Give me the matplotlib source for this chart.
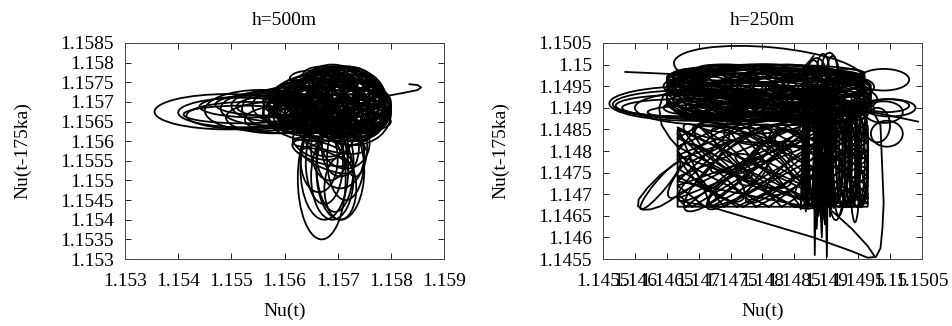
"""
Delay-embedding phase portraits Nu(t) vs Nu(t-175ka) for h=500m and h=250m.
Loops are read off the reference figure as ellipses (centre, width, height, tilt)
plus a few traced polylines; everything drawn in data coordinates.
"""
import matplotlib
matplotlib.use("Agg")
import matplotlib.pyplot as plt
from matplotlib.patches import Ellipse

plt.rcParams["font.family"] = ["Liberation Serif", "DejaVu Serif"]
plt.rcParams["font.size"] = 14

# ---------------- h=500m ----------------
# horizontal loops stretching to the left
l500_hx = [1.15493, 1.1552, 1.15533, 1.15555, 1.15565, 1.1558, 1.1558, 1.1560,
           1.15598, 1.15615, 1.1563, 1.15565, 1.15545, 1.1564, 1.1552, 1.15585]
l500_hy = [1.15675, 1.15673, 1.15665, 1.15678, 1.15683, 1.1566, 1.1569, 1.15683,
           1.15655, 1.1569, 1.15675, 1.15693, 1.15688, 1.15665, 1.15668, 1.15688]
l500_hw = [0.00275, 0.0024, 0.00235, 0.0021, 0.0017, 0.0018, 0.0016, 0.0016,
           0.00145, 0.0015, 0.0014, 0.0019, 0.0021, 0.0014, 0.0022, 0.0015]
l500_hh = [0.0009, 0.00075, 0.0007, 0.00105, 0.00085, 0.0008, 0.0008, 0.00105,
           0.0007, 0.001, 0.0009, 0.00055, 0.00055, 0.0009, 0.00045, 0.00055]

# dense central cluster
l500_cx = [1.1570, 1.1569, 1.1571, 1.1568, 1.1572, 1.1567, 1.1566, 1.1565, 1.1573, 1.1574,
           1.1575, 1.1574, 1.1570, 1.1568, 1.1571, 1.1569, 1.1570, 1.1568, 1.1572, 1.1571,
           1.1573, 1.1567, 1.1566, 1.1569, 1.1572, 1.1570, 1.1568, 1.1574, 1.1575, 1.1576,
           1.1566, 1.1564, 1.1563, 1.1565, 1.1571, 1.1573, 1.1569, 1.1567, 1.1570, 1.1572,
           1.1569, 1.1571, 1.1568, 1.1573, 1.1570, 1.1574, 1.1567, 1.1565, 1.1572, 1.1569,
           1.1567, 1.1570, 1.1573, 1.1566, 1.1571, 1.1568, 1.1575, 1.1564, 1.1570, 1.1572,
           1.1569, 1.1566, 1.1573, 1.1570, 1.1567, 1.1576, 1.1562, 1.1561,
           1.1560, 1.1562, 1.1564, 1.1566, 1.1568, 1.1570, 1.1572, 1.1574, 1.1576, 1.1578,
           1.1561, 1.1563, 1.1565, 1.1567, 1.1569, 1.1571, 1.1573, 1.1575, 1.1577,
           1.1562, 1.1564, 1.1566, 1.1568, 1.1570, 1.1572, 1.1574, 1.1576,
           1.1565, 1.1567, 1.1569, 1.1571, 1.1573]
l500_cy = [1.1570, 1.1571, 1.1570, 1.1569, 1.1569, 1.1570, 1.1570, 1.1569, 1.1568, 1.1568,
           1.1567, 1.1569, 1.1572, 1.1572, 1.1571, 1.1568, 1.1567, 1.1566, 1.1566, 1.1568,
           1.1570, 1.1571, 1.1571, 1.1570, 1.1571, 1.1569, 1.1568, 1.1566, 1.1569, 1.1568,
           1.1567, 1.1568, 1.1569, 1.1571, 1.1573, 1.1572, 1.1573, 1.1573, 1.1566, 1.1567,
           1.1567, 1.1569, 1.1570, 1.1569, 1.1571, 1.1571, 1.1569, 1.1570, 1.1565, 1.1565,
           1.1566, 1.1565, 1.1566, 1.1568, 1.1570, 1.1571, 1.1570, 1.1566, 1.1568, 1.1572,
           1.1569, 1.1572, 1.1567, 1.1570, 1.1567, 1.1571, 1.1570, 1.1567,
           1.1570, 1.1571, 1.1572, 1.1573, 1.1574, 1.1575, 1.1574, 1.1573, 1.1571, 1.1569,
           1.1566, 1.1565, 1.1566, 1.1567, 1.1566, 1.1565, 1.1566, 1.1565, 1.1566,
           1.1568, 1.1569, 1.1568, 1.1569, 1.1568, 1.1569, 1.1568, 1.1567,
           1.1576, 1.1577, 1.1577, 1.1576, 1.1575]
l500_cw = [0.0016, 0.0014, 0.0012, 0.0018, 0.0014, 0.0020, 0.0018, 0.0016, 0.0012, 0.0010,
           0.0008, 0.0011, 0.0010, 0.0012, 0.0016, 0.0022, 0.0020, 0.0016, 0.0014, 0.0018,
           0.0010, 0.0014, 0.0016, 0.0010, 0.0008, 0.0012, 0.0008, 0.0010, 0.0008, 0.0006,
           0.0012, 0.0012, 0.0012, 0.0010, 0.0010, 0.0008, 0.0008, 0.0008, 0.0012, 0.0010,
           0.0014, 0.0018, 0.0024, 0.0012, 0.0006, 0.0006, 0.0010, 0.0014, 0.0016, 0.0018,
           0.0020, 0.0016, 0.0012, 0.0020, 0.0014, 0.0016, 0.0008, 0.0014, 0.0008, 0.0012,
           0.0022, 0.0010, 0.0014, 0.0018, 0.0006, 0.0006, 0.0012, 0.0010,
           0.0006, 0.0007, 0.0008, 0.0006, 0.0007, 0.0008, 0.0006, 0.0007, 0.0005, 0.0004,
           0.0006, 0.0008, 0.0007, 0.0006, 0.0008, 0.0007, 0.0006, 0.0008, 0.0005,
           0.0007, 0.0006, 0.0008, 0.0007, 0.0006, 0.0008, 0.0007, 0.0006,
           0.0008, 0.0007, 0.0008, 0.0007, 0.0008]
l500_ch = [0.0018, 0.0017, 0.0018, 0.0016, 0.0020, 0.0014, 0.0012, 0.0010, 0.0014, 0.0010,
           0.0008, 0.0016, 0.0014, 0.0012, 0.0016, 0.0012, 0.0010, 0.0008, 0.0008, 0.0012,
           0.0012, 0.0014, 0.0012, 0.0018, 0.0016, 0.0012, 0.0010, 0.0010, 0.0012, 0.0008,
           0.0008, 0.0010, 0.0008, 0.0010, 0.0012, 0.0012, 0.0012, 0.0010, 0.0008, 0.0006,
           0.0014, 0.0014, 0.0012, 0.0018, 0.0016, 0.0012, 0.0014, 0.0012, 0.0006, 0.0008,
           0.0010, 0.0010, 0.0012, 0.0016, 0.0012, 0.0012, 0.0010, 0.0008, 0.0008, 0.0010,
           0.0010, 0.0008, 0.0016, 0.0016, 0.0010, 0.0006, 0.0008, 0.0008,
           0.0004, 0.0005, 0.0004, 0.0006, 0.0005, 0.0004, 0.0006, 0.0005, 0.0004, 0.0005,
           0.0005, 0.0004, 0.0006, 0.0005, 0.0004, 0.0006, 0.0005, 0.0004, 0.0006,
           0.0006, 0.0005, 0.0004, 0.0006, 0.0005, 0.0004, 0.0006, 0.0005,
           0.0004, 0.0004, 0.0004, 0.0004, 0.0004]

# tall loops hanging below the cluster
l500_vx = [1.1567, 1.15675, 1.15705, 1.15695, 1.15675, 1.15705, 1.15665, 1.15705, 1.15715, 1.15733,
           1.15685, 1.15685, 1.15715, 1.1567, 1.1568, 1.1569, 1.1566, 1.15705, 1.1569, 1.15638]
l500_vy = [1.15505, 1.1553, 1.15525, 1.1554, 1.15545, 1.15565, 1.15555, 1.15585, 1.15555, 1.1559,
           1.1558, 1.1561, 1.15595, 1.1557, 1.1555, 1.1560, 1.1559, 1.1548, 1.1551, 1.15598]
l500_vw = [0.0009, 0.0009, 0.0009, 0.0007, 0.0007, 0.0009, 0.0007, 0.0007, 0.0007, 0.00045,
           0.0007, 0.0009, 0.0009, 0.0012, 0.0011, 0.0013, 0.0010, 0.0006, 0.0008, 0.00045]
l500_vh = [0.0031, 0.0026, 0.0025, 0.0024, 0.0021, 0.0017, 0.0017, 0.0015, 0.0021, 0.0016,
           0.0016, 0.0010, 0.0013, 0.0005, 0.0004, 0.0005, 0.0006, 0.0016, 0.0022, 0.00025]
l500_va = [0, 0, 0, 0, 0, 0, 0, 0, 0, 0,
           0, -20, 0, -25, -30, -20, -35, 0, 0, 0]

# hooked tail to the right
l500_tail_x = [1.1574, 1.1578, 1.1582, 1.1585, 1.15857, 1.1585, 1.15835]
l500_tail_y = [1.15705, 1.15712, 1.15722, 1.1573, 1.15737, 1.15743, 1.15745]

# ---------------- h=250m ----------------
# upper horizontal band
r250_bx = [1.1481, 1.1482, 1.1480, 1.1483, 1.1479, 1.1484, 1.1478, 1.1486, 1.1476, 1.1488,
           1.1474, 1.1490, 1.1472, 1.1487, 1.1477, 1.1481, 1.1483, 1.1480, 1.1485, 1.1475,
           1.1489, 1.1470, 1.1492, 1.1481, 1.1482, 1.1484, 1.1479, 1.1486, 1.1476, 1.1483,
           1.1488, 1.1473, 1.1485, 1.1478, 1.1490, 1.1481, 1.1487, 1.1475, 1.1482, 1.1489,
           1.1480, 1.1483, 1.1486, 1.1478,
           1.1479, 1.1485, 1.1477, 1.1490, 1.1471, 1.1473, 1.1492, 1.1483, 1.1480, 1.1486,
           1.1475, 1.1481, 1.1488, 1.1469, 1.1494,
           1.1469, 1.1473, 1.1477, 1.1481, 1.1485, 1.1489, 1.1493,
           1.1468, 1.1472, 1.1476, 1.1480, 1.1484, 1.1488, 1.1492, 1.1495,
           1.1470, 1.1474, 1.1478, 1.1482, 1.1486, 1.1490, 1.1494,
           1.1468, 1.1472, 1.1476, 1.1480, 1.1484, 1.1488, 1.1492, 1.1495,
           1.1470, 1.1474, 1.1478, 1.1482, 1.1486, 1.1490, 1.1494]
r250_by = [1.1493, 1.1494, 1.1492, 1.1493, 1.1494, 1.1492, 1.1493, 1.1494, 1.1492, 1.1493,
           1.1494, 1.1492, 1.1493, 1.1495, 1.1495, 1.1490, 1.1491, 1.1496, 1.1496, 1.1491,
           1.1491, 1.1492, 1.1494, 1.1495, 1.1492, 1.1494, 1.1491, 1.1492, 1.1494, 1.1496,
           1.1496, 1.1496, 1.1490, 1.1489, 1.1489, 1.1497, 1.1497, 1.1497, 1.1488, 1.1488,
           1.1485, 1.1484, 1.1485, 1.1486,
           1.1495, 1.1493, 1.1493, 1.1495, 1.1495, 1.1490, 1.1491, 1.1489, 1.1493, 1.1491,
           1.1489, 1.1496, 1.1490, 1.1493, 1.1493,
           1.14975, 1.14972, 1.14976, 1.14974, 1.14977, 1.14973, 1.14975,
           1.1495, 1.14952, 1.14948, 1.14951, 1.14949, 1.14953, 1.1495, 1.14948,
           1.14925, 1.14927, 1.14923, 1.14926, 1.14924, 1.14928, 1.14925,
           1.1490, 1.14902, 1.14898, 1.14901, 1.14899, 1.14903, 1.149, 1.14898,
           1.14885, 1.14883, 1.14887, 1.14884, 1.14886, 1.14882, 1.14885]
r250_bw = [0.0032, 0.0030, 0.0028, 0.0026, 0.0026, 0.0024, 0.0022, 0.0020, 0.0020, 0.0016,
           0.0018, 0.0014, 0.0014, 0.0018, 0.0022, 0.0030, 0.0026, 0.0028, 0.0022, 0.0020,
           0.0014, 0.0010, 0.0010, 0.0032, 0.0032, 0.0016, 0.0016, 0.0012, 0.0012, 0.0014,
           0.0010, 0.0012, 0.0020, 0.0022, 0.0012, 0.0030, 0.0018, 0.0018, 0.0028, 0.0012,
           0.0022, 0.0018, 0.0016, 0.0016,
           0.0026, 0.0022, 0.0018, 0.0012, 0.0010, 0.0014, 0.0010, 0.0024, 0.0020, 0.0018,
           0.0014, 0.0024, 0.0012, 0.0008, 0.0006,
           0.0006, 0.0007, 0.0006, 0.0008, 0.0006, 0.0007, 0.0006,
           0.0007, 0.0006, 0.0008, 0.0007, 0.0006, 0.0008, 0.0007, 0.0005,
           0.0006, 0.0008, 0.0007, 0.0006, 0.0008, 0.0006, 0.0005,
           0.0007, 0.0008, 0.0006, 0.0007, 0.0008, 0.0006, 0.0007, 0.0005,
           0.0006, 0.0007, 0.0008, 0.0006, 0.0007, 0.0008, 0.0005]
r250_bh = [0.0012, 0.0010, 0.0008, 0.0010, 0.0008, 0.0010, 0.0010, 0.0008, 0.0008, 0.0010,
           0.0008, 0.0008, 0.0010, 0.0006, 0.0006, 0.0006, 0.0006, 0.0006, 0.0006, 0.0006,
           0.0006, 0.0008, 0.0008, 0.0008, 0.0010, 0.0012, 0.0004, 0.0004, 0.0004, 0.0004,
           0.0004, 0.0004, 0.0004, 0.0004, 0.0004, 0.0004, 0.0004, 0.0004, 0.0004, 0.0004,
           0.0006, 0.0006, 0.0008, 0.0004,
           0.0009, 0.0011, 0.0012, 0.0006, 0.0006, 0.0006, 0.0006, 0.0006, 0.0014, 0.0008,
           0.0004, 0.0008, 0.0006, 0.0010, 0.0010,
           0.0003, 0.0003, 0.0004, 0.0003, 0.0003, 0.0004, 0.0003,
           0.0004, 0.0004, 0.0003, 0.0004, 0.0004, 0.0003, 0.0004, 0.0004,
           0.0004, 0.0003, 0.0004, 0.0004, 0.0003, 0.0004, 0.0004,
           0.0003, 0.0003, 0.0004, 0.0003, 0.0003, 0.0004, 0.0003, 0.0003,
           0.0003, 0.0004, 0.0003, 0.0003, 0.0004, 0.0003, 0.0003]

# loops above the band, far-left lobes, small peaks, right-side lobes,
# tall loops right of the spike band, tilted loops inside the box
r250_ox = [1.1481, 1.1480, 1.1479, 1.1478, 1.1474, 1.1481,
           1.1469, 1.14683, 1.14675, 1.1467, 1.14725, 1.1476,
           1.14895, 1.14905, 1.14885, 1.1491, 1.1488,
           1.1499, 1.1500, 1.14995, 1.1499, 1.14995, 1.1498,
           1.14925, 1.14935, 1.14945, 1.14915, 1.14950, 1.14930, 1.14920, 1.14940, 1.14955, 1.14910,
           1.14945, 1.1464,
           1.14918, 1.14928, 1.14938, 1.14948, 1.14958, 1.14925, 1.14945, 1.14935, 1.14915, 1.14955,
           1.1474, 1.1480, 1.1477, 1.1484, 1.1472, 1.1488, 1.1478, 1.1483,
           1.1473, 1.1476, 1.1481, 1.1486, 1.1479, 1.1470, 1.1485, 1.1490, 1.1475, 1.1482]
r250_oy = [1.14985, 1.14965, 1.1497, 1.1496, 1.14993, 1.1498,
           1.1491, 1.14908, 1.14905, 1.1490, 1.1490, 1.1489,
           1.1498, 1.14985, 1.14975, 1.1497, 1.1498,
           1.14965, 1.1490, 1.14905, 1.1489, 1.1484, 1.1486,
           1.1480, 1.1479, 1.1481, 1.1478, 1.1479, 1.1477, 1.1476, 1.1477, 1.1480, 1.1481,
           1.1476, 1.14720,
           1.1479, 1.1478, 1.1480, 1.1478, 1.1479, 1.1482, 1.1483, 1.1474, 1.1474, 1.1474,
           1.1477, 1.1476, 1.1479, 1.1477, 1.1475, 1.1478, 1.1474, 1.1480,
           1.1480, 1.1472, 1.1478, 1.1476, 1.1481, 1.1477, 1.1481, 1.1476, 1.1476, 1.1474]
r250_ow = [0.0030, 0.0030, 0.0028, 0.0026, 0.0008, 0.0030,
           0.0026, 0.00235, 0.0021, 0.0018, 0.0025, 0.0028,
           0.0002, 0.00025, 0.0003, 0.0002, 0.0002,
           0.0008, 0.0008, 0.0007, 0.0006, 0.0005, 0.0004,
           0.0002, 0.0003, 0.0002, 0.0003, 0.0003, 0.0004, 0.0002, 0.0002, 0.0002, 0.0004,
           0.00015, 0.00125,
           0.00015, 0.00025, 0.0002, 0.00025, 0.00015, 0.0003, 0.0003, 0.0003, 0.0002, 0.0002,
           0.0022, 0.0024, 0.0020, 0.0022, 0.0016, 0.0018, 0.0018, 0.0020,
           0.0016, 0.0014, 0.0022, 0.0016, 0.0018, 0.0018, 0.0014, 0.0016, 0.0024, 0.0016]
r250_oh = [0.0011, 0.0007, 0.0006, 0.0007, 0.00015, 0.0004,
           0.0008, 0.00065, 0.0005, 0.0004, 0.0008, 0.0004,
           0.0009, 0.00085, 0.0008, 0.0010, 0.0006,
           0.0005, 0.0004, 0.0003, 0.0005, 0.0006, 0.0008,
           0.0026, 0.0024, 0.0022, 0.0028, 0.0024, 0.0020, 0.0022, 0.0020, 0.0026, 0.0024,
           0.0025, 0.0002,
           0.0022, 0.0022, 0.0020, 0.0022, 0.0022, 0.0014, 0.0012, 0.0012, 0.0012, 0.0012,
           0.0005, 0.0006, 0.0008, 0.0005, 0.0006, 0.0006, 0.0005, 0.0007,
           0.0004, 0.0004, 0.0004, 0.0005, 0.0005, 0.0004, 0.0004, 0.0004, 0.0006, 0.0004]
r250_oa = [-8, 0, 0, 0, 0, 0,
           0, 0, 0, 0, 0, 0,
           0, 0, 0, 0, 0,
           0, 0, 0, 0, 0, 0,
           0, 0, 0, 0, 0, 0, 0, 0, 0, 0,
           0, 61,
           0, 0, 0, 0, 0, 0, 0, 0, 0, 0,
           50, -50, -45, 55, -55, -50, 45, 50,
           -50, 50, -55, 50, 40, 60, -45, 55, 55, -40]

# trajectory bouncing inside the lower box (read as turning points)
r250_box_x = [1.14667, 1.14790, 1.14965, 1.14880, 1.14667, 1.14690, 1.14900, 1.14965, 1.14760, 1.14667,
              1.14800, 1.14965, 1.14920, 1.14667, 1.14720, 1.14940, 1.14965, 1.14850, 1.14667, 1.14740,
              1.14965, 1.14870, 1.14667, 1.14760, 1.14860, 1.14965, 1.14820, 1.14667, 1.14810, 1.14965,
              1.14700, 1.14667, 1.14740, 1.14965, 1.14950, 1.14667, 1.14680, 1.14840, 1.14965, 1.14900,
              1.14667, 1.14700, 1.14830, 1.14965, 1.14860, 1.14667, 1.14770, 1.14965, 1.14930, 1.14667,
              1.14710, 1.14880, 1.14965, 1.14890, 1.14667, 1.14780, 1.14965, 1.14940, 1.14667, 1.14667,
              1.14965, 1.14965]
r250_box_y = [1.14840, 1.14671, 1.14800, 1.14858, 1.14700, 1.14671, 1.14858, 1.14820, 1.14671, 1.14760,
              1.14858, 1.14720, 1.14671, 1.14855, 1.14671, 1.14858, 1.14690, 1.14671, 1.14810, 1.14858,
              1.14760, 1.14671, 1.14730, 1.14858, 1.14671, 1.14780, 1.14858, 1.14780, 1.14671, 1.14840,
              1.14858, 1.14800, 1.14671, 1.14850, 1.14858, 1.14690, 1.14671, 1.14858, 1.14700, 1.14671,
              1.14830, 1.14858, 1.14671, 1.14790, 1.14858, 1.14740, 1.14671, 1.14830, 1.14858, 1.14720,
              1.14671, 1.14858, 1.14740, 1.14671, 1.14790, 1.14858, 1.14680, 1.14671, 1.14850, 1.14671,
              1.14671, 1.14858]

# dense vertical band with its downward spikes
r250_vert_x = [1.14880, 1.14882, 1.14886, 1.14884, 1.14892, 1.14888, 1.14896, 1.14901, 1.14904, 1.14894,
               1.14890, 1.14908, 1.14912, 1.14898, 1.14886, 1.14878, 1.14883, 1.14893, 1.14900, 1.14906,
               1.14910, 1.14889, 1.14879, 1.14903, 1.14897, 1.14885, 1.14891, 1.14912, 1.14906, 1.14881,
               1.14887, 1.14899, 1.14909, 1.14895, 1.14884]
r250_vert_y = [1.14950, 1.14559, 1.14945, 1.14668, 1.14955, 1.14650, 1.14940, 1.14555, 1.14948, 1.14640,
               1.14952, 1.14665, 1.14945, 1.14630, 1.14950, 1.14672, 1.14942, 1.14600, 1.14955, 1.14648,
               1.14950, 1.14660, 1.14948, 1.14672, 1.14945, 1.14620, 1.14952, 1.14668, 1.14940, 1.14666,
               1.14950, 1.14660, 1.14946, 1.14671, 1.14955]
r250_vert2_x = [1.14862, 1.14866, 1.14870, 1.14868, 1.14874, 1.14872, 1.14865, 1.14860, 1.14876, 1.14870,
                1.14863, 1.14878]
r250_vert2_y = [1.14945, 1.14668, 1.14950, 1.14660, 1.14945, 1.14671, 1.14950, 1.14665, 1.14948, 1.14670,
                1.14952, 1.14668]

# long sweep below the box and back up the right side
r250_sweep_x = [1.1467, 1.1472, 1.1480, 1.1488, 1.1494, 1.14965, 1.14978, 1.14985, 1.14988, 1.1499, 1.14985, 1.1497]
r250_sweep_y = [1.14685, 1.1467, 1.14635, 1.14600, 1.14568, 1.14553, 1.14555, 1.14575, 1.1462, 1.1468, 1.1486, 1.1490]
r250_sweep2_x = [1.1491, 1.1494, 1.14965, 1.14975]
r250_sweep2_y = [1.1466, 1.1462, 1.1458, 1.14558]

# lower-left slanted lobe
r250_lobe_x = [1.14668, 1.1464, 1.1462, 1.14606, 1.14605, 1.14613, 1.14625, 1.14640, 1.14655, 1.14668]
r250_lobe_y = [1.14775, 1.14745, 1.14715, 1.14688, 1.14672, 1.14664, 1.14665, 1.14672, 1.14685, 1.14698]

# loose strands: top-left stroke, left descending curve, right outgoing line, peak stroke
r250_strands = [
    ([1.14585, 1.1466], [1.14983, 1.14978]),
    ([1.1466, 1.14645, 1.14638, 1.14642, 1.14655, 1.14667], [1.14945, 1.14930, 1.1490, 1.1486, 1.14830, 1.1481]),
    ([1.1494, 1.1499, 1.15044], [1.1490, 1.14885, 1.14868]),
    ([1.1485, 1.14875, 1.1488], [1.1497, 1.1501, 1.1502]),
]

# axes ticks
l500_xticks = [1.153, 1.154, 1.155, 1.156, 1.157, 1.158, 1.159]
l500_xlabels = ["1.153", "1.154", "1.155", "1.156", "1.157", "1.158", "1.159"]
l500_yticks = [1.153, 1.1535, 1.154, 1.1545, 1.155, 1.1555, 1.156, 1.1565, 1.157, 1.1575, 1.158, 1.1585]
l500_ylabels = ["1.153", "1.1535", "1.154", "1.1545", "1.155", "1.1555", "1.156", "1.1565",
                "1.157", "1.1575", "1.158", "1.1585"]
r250_ticks = [1.1455, 1.146, 1.1465, 1.147, 1.1475, 1.148, 1.1485, 1.149, 1.1495, 1.15, 1.1505]
r250_labels = ["1.1455", "1.146", "1.1465", "1.147", "1.1475", "1.148", "1.1485", "1.149",
               "1.1495", "1.15", "1.1505"]

LW = 1.3


def loops(ax, cx, cy, w, h, ang=None):
    for i in range(len(cx)):
        a = 0 if ang is None else ang[i]
        ax.add_patch(Ellipse((cx[i], cy[i]), w[i], h[i], angle=a, fill=False, ec="k", lw=LW))


def style(ax, title, xt, xl, yt, yl):
    ax.set_title(title, pad=13, fontsize=14)
    ax.set_xticks(xt)
    ax.set_xticklabels(xl)
    ax.set_yticks(yt)
    ax.set_yticklabels(yl)
    ax.set_xlim(xt[0], xt[-1])
    ax.set_ylim(yt[0], yt[-1])
    ax.tick_params(direction="in", top=True, right=True, length=4, width=0.6, labelsize=14)
    ax.tick_params(axis="x", pad=10)
    ax.tick_params(axis="y", pad=8)
    ax.set_xlabel("Nu(t)", fontsize=14, labelpad=9)
    ax.set_ylabel("Nu(t-175ka)", fontsize=14, labelpad=21)
    for sp in ax.spines.values():
        sp.set_linewidth(0.7)
        sp.set_color("#444444")


fig = plt.figure(figsize=(9.53, 3.26), dpi=100)
ax1 = fig.add_axes([0.1312, 0.2055, 0.3347, 0.6626])
ax2 = fig.add_axes([0.6327, 0.2055, 0.3347, 0.6626])

loops(ax1, l500_hx, l500_hy, l500_hw, l500_hh)
loops(ax1, l500_cx, l500_cy, l500_cw, l500_ch)
loops(ax1, l500_vx, l500_vy, l500_vw, l500_vh, l500_va)
ax1.plot(l500_tail_x, l500_tail_y, "-", color="k", lw=LW)
style(ax1, "h=500m", l500_xticks, l500_xlabels, l500_yticks, l500_ylabels)

loops(ax2, r250_bx, r250_by, r250_bw, r250_bh)
loops(ax2, r250_ox, r250_oy, r250_ow, r250_oh, r250_oa)
ax2.plot(r250_box_x, r250_box_y, "-", color="k", lw=LW)
ax2.plot(r250_vert_x, r250_vert_y, "-", color="k", lw=LW)
ax2.plot(r250_vert2_x, r250_vert2_y, "-", color="k", lw=LW)
ax2.plot(r250_sweep_x, r250_sweep_y, "-", color="k", lw=LW)
ax2.plot(r250_sweep2_x, r250_sweep2_y, "-", color="k", lw=LW)
ax2.plot(r250_lobe_x, r250_lobe_y, "-", color="k", lw=LW)
for sx, sy in r250_strands:
    ax2.plot(sx, sy, "-", color="k", lw=LW)
style(ax2, "h=250m", r250_ticks, r250_labels, r250_ticks, r250_labels)

fig.savefig("out.png", dpi=100)
